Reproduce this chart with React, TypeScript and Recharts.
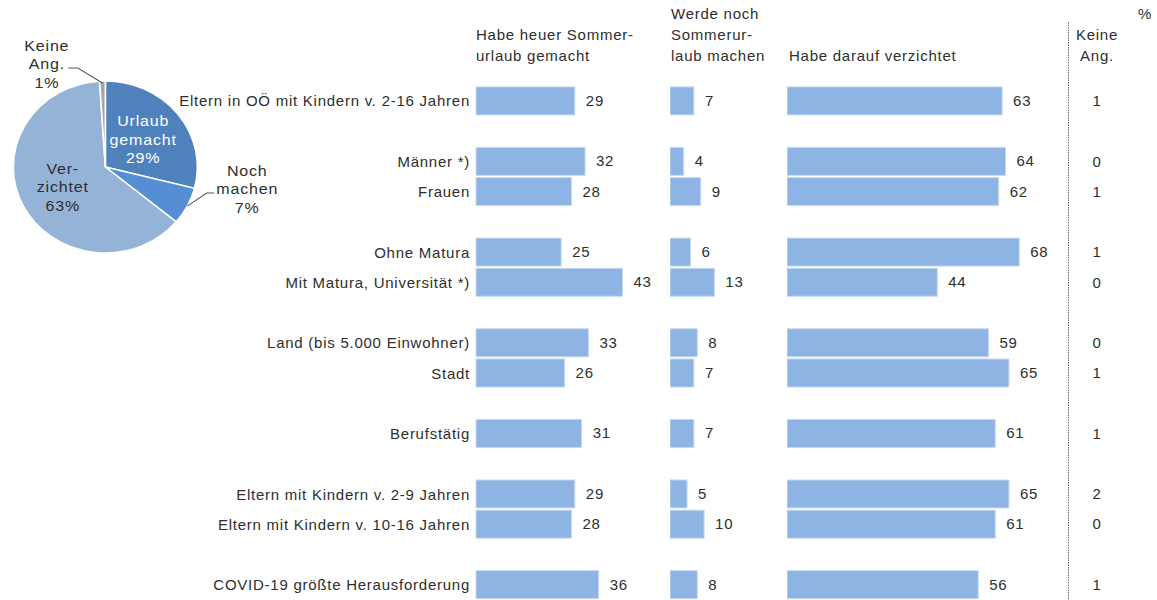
import { Bar, BarChart, Cell, LabelList, Pie, PieChart, XAxis, YAxis } from 'recharts';

const rowLabels = [
  'Eltern in OÖ mit Kindern v. 2-16 Jahren',
  '',
  'Männer *)',
  'Frauen',
  '',
  'Ohne Matura',
  'Mit Matura, Universität *)',
  '',
  'Land (bis 5.000 Einwohner)',
  'Stadt',
  '',
  'Berufstätig',
  '',
  'Eltern mit Kindern v. 2-9 Jahren',
  'Eltern mit Kindern v. 10-16 Jahren',
  '',
  'COVID-19 größte Herausforderung',
];

const urlaubGemacht = [29, null, 32, 28, null, 25, 43, null, 33, 26, null, 31, null, 29, 28, null, 36];
const nochMachen = [7, null, 4, 9, null, 6, 13, null, 8, 7, null, 7, null, 5, 10, null, 8];
const verzichtet = [63, null, 64, 62, null, 68, 44, null, 59, 65, null, 61, null, 65, 61, null, 56];
const keineAngabe = [1, null, 0, 1, null, 1, 0, null, 0, 1, null, 1, null, 2, 0, null, 1];

const pieNames = ['Urlaub gemacht', 'Noch machen', 'Verzichtet', 'Keine Ang.'];
const pieValues = [29, 7, 63, 1];
const pieColors = ['#4F81BD', '#558ED5', '#95B3D7', '#A6A6A6'];
const pieLabelLines = [['Urlaub', 'gemacht', '29%'], ['Noch', 'machen', '7%'], ['Ver-', 'zichtet', '63%'], ['Keine', 'Ang.', '1%']];

const rows = rowLabels.map((label, i) => ({
  label,
  gemacht: urlaubGemacht[i],
  noch: nochMachen[i],
  verzichtet: verzichtet[i],
  keine: keineAngabe[i],
}));

const pieData = pieNames.map((name, i) => ({ name, value: pieValues[i] }));

const TEXT = '#2E2E2E';
const BAR_FILL = '#8DB4E2';
const BAR_STROKE = '#C6D9F1';
const FONT = 15;
const RADIAN = Math.PI / 180;

// panel 3 chart starts at x=787, the "Keine Ang." column is centred at x=1097
const KEINE_X = 1097 - 787;

function ValueLabel(props: any) {
  const { x, y, width, height, value } = props;
  if (value === null || value === undefined) return null;
  return (
    <text x={x + width + 11} y={y + height / 2} dy={5} fill={TEXT} fontSize={FONT}>
      {value}
    </text>
  );
}

function KeineTick(props: any) {
  const { y, index } = props;
  const v = keineAngabe[index];
  if (v === null || v === undefined) return null;
  return (
    <text x={KEINE_X} y={y} dy={5} textAnchor="middle" fill={TEXT} fontSize={FONT}>
      {v}
    </text>
  );
}

function PieLabel(props: any) {
  const { cx, cy, midAngle, outerRadius, index } = props;
  const lines = pieLabelLines[index];
  const cos = Math.cos(-midAngle * RADIAN);
  const sin = Math.sin(-midAngle * RADIAN);
  let tx: number;
  let ty: number;
  let fill = TEXT;
  let leader: string | null = null;
  if (index === 0 || index === 2) {
    const r = outerRadius * 0.52;
    tx = cx + r * cos;
    ty = cy + r * sin;
    if (index === 0) fill = '#FFFFFF';
  } else {
    const ex = cx + outerRadius * cos;
    const ey = cy + outerRadius * sin;
    if (index === 1) {
      leader = `${ex},${ey} ${ex + 18},${ey - 13} ${ex + 25},${ey - 13}`;
      tx = ex + 56;
      ty = ey - 17;
    } else {
      leader = `${ex},${ey + 2} ${ex - 23},${ey - 13} ${ex - 32},${ey - 13}`;
      tx = ex - 52;
      ty = ey - 17;
    }
  }
  return (
    <g>
      {leader && <polyline points={leader} fill="none" stroke="#595959" strokeWidth={1} />}
      <text x={tx} y={ty} textAnchor="middle" fill={fill} fontSize={FONT}>
        {lines.map((line, i) => (
          <tspan key={line} x={tx} y={ty + (i - 1) * 18.5 + 5}>
            {line}
          </tspan>
        ))}
      </text>
    </g>
  );
}

const chartMargin = { top: 86, right: 0, bottom: 0, left: 0 };

export default function App() {
  return (
    <div
      style={{
        position: 'absolute',
        left: 0,
        top: 0,
        width: 1157,
        height: 600,
        background: '#FFFFFF',
        fontFamily: '"Liberation Sans", Arial, sans-serif',
        letterSpacing: '0.75px',
        overflow: 'hidden',
      }}
    >
      {/* the source pie is slightly wider than tall */}
      <div style={{ position: 'absolute', left: 0, top: 0, transform: 'scaleX(1.07)', transformOrigin: '100px 0' }}>
        <PieChart width={300} height={260}>
          <Pie
            data={pieData}
            dataKey="value"
            nameKey="name"
            cx={100}
            cy={162}
            outerRadius={86}
            startAngle={90}
            endAngle={-270}
            stroke="#FFFFFF"
            strokeWidth={1.5}
            label={PieLabel}
            labelLine={false}
            isAnimationActive={false}
          >
            {pieData.map((d, i) => (
              <Cell key={d.name} fill={pieColors[i]} />
            ))}
          </Pie>
        </PieChart>
      </div>

      <div style={{ position: 'absolute', left: 170, top: 0 }}>
        <BarChart width={490} height={600} data={rows} layout="vertical" margin={chartMargin} barCategoryGap="3%">
          <XAxis type="number" domain={[0, 54]} hide />
          <YAxis
            type="category"
            dataKey="label"
            width={306}
            interval={0}
            axisLine={false}
            tickLine={false}
            tickSize={4}
            tick={{ fill: TEXT, fontSize: FONT }}
          />
          <Bar dataKey="gemacht" fill={BAR_FILL} stroke={BAR_STROKE} strokeWidth={1} isAnimationActive={false}>
            <LabelList dataKey="gemacht" content={ValueLabel} />
          </Bar>
        </BarChart>
      </div>

      <div style={{ position: 'absolute', left: 670, top: 0 }}>
        <BarChart width={116} height={600} data={rows} layout="vertical" margin={chartMargin} barCategoryGap="3%">
          <XAxis type="number" domain={[0, 34]} hide />
          <YAxis type="category" dataKey="label" hide />
          <Bar dataKey="noch" fill={BAR_FILL} stroke={BAR_STROKE} strokeWidth={1} isAnimationActive={false}>
            <LabelList dataKey="noch" content={ValueLabel} />
          </Bar>
        </BarChart>
      </div>

      <div style={{ position: 'absolute', left: 787, top: 0 }}>
        <BarChart width={370} height={600} data={rows} layout="vertical" margin={chartMargin} barCategoryGap="3%">
          <XAxis type="number" domain={[0, 82]} hide />
          <YAxis type="category" dataKey="label" hide />
          <YAxis
            yAxisId="keine"
            type="category"
            dataKey="label"
            orientation="right"
            width={90}
            interval={0}
            axisLine={false}
            tickLine={false}
            tick={KeineTick}
          />
          <Bar dataKey="verzichtet" fill={BAR_FILL} stroke={BAR_STROKE} strokeWidth={1} isAnimationActive={false}>
            <LabelList dataKey="verzichtet" content={ValueLabel} />
          </Bar>
        </BarChart>
      </div>

      <svg width={1157} height={600} style={{ position: 'absolute', left: 0, top: 0, pointerEvents: 'none' }}>
        <g fill={TEXT} fontSize={FONT}>
          <text x={476} y={40}>Habe heuer Sommer-</text>
          <text x={476} y={61}>urlaub gemacht</text>
          <text x={671} y={19}>Werde noch</text>
          <text x={671} y={40}>Sommerur-</text>
          <text x={671} y={61}>laub machen</text>
          <text x={789} y={61}>Habe darauf verzichtet</text>
          <text x={1097} y={40} textAnchor="middle">Keine</text>
          <text x={1097} y={61} textAnchor="middle">Ang.</text>
          <text x={1145} y={19} textAnchor="middle">%</text>
        </g>
        <line x1={1068.5} y1={22} x2={1068.5} y2={600} stroke="#666666" strokeWidth={1} strokeDasharray="1.5 1" />
      </svg>
    </div>
  );
}
